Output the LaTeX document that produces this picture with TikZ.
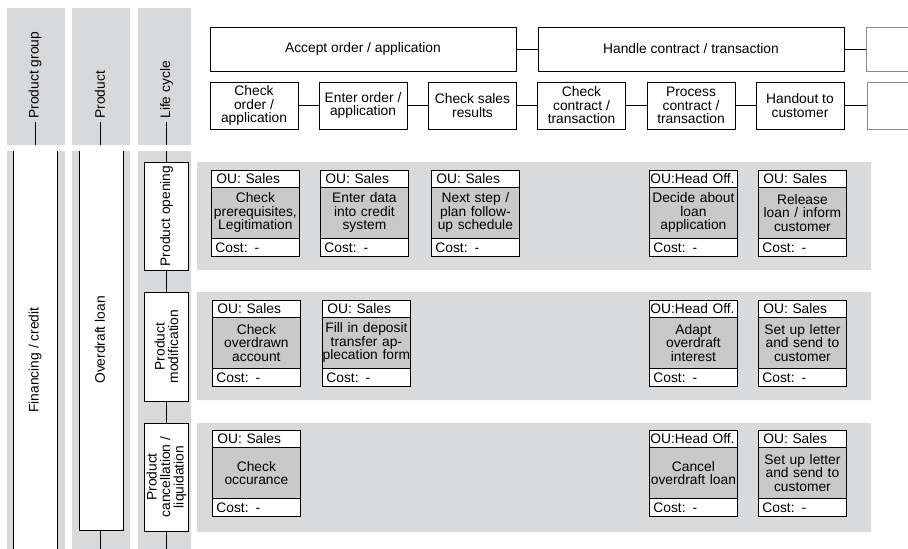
\documentclass[tikz,border=0pt]{standalone}
\usepackage{fontspec}
\setmainfont{Liberation Sans}
\definecolor{colgray}{RGB}{216,217,219}
\definecolor{lanegray}{RGB}{217,218,220}
\definecolor{bodygray}{RGB}{201,201,201}
\newcommand{\ous}{\hspace{4pt}OU: Sales}
\newcommand{\ouh}{\mbox{OU:Head Off.}}
\newcommand{\taskbox}[5]{%
  \node[tkhead] (#1h) at (#2,#3) {#4};
  \node[tkbody] (#1b) at (#2,#3+17) {#5};
  \node[tkfoot] (#1f) at (#2,#3+68) {Cost: -};
}
\tikzset{
  bigbox/.style={draw, line width=0.8pt, minimum width=306pt, minimum height=44pt, inner sep=0pt},
  chainbox/.style={draw, line width=0.8pt, minimum width=88pt, minimum height=47pt, inner sep=0pt, align=center},
  tkhead/.style={draw, fill=white, anchor=north west, minimum height=17pt, text width=86pt, inner xsep=1pt, inner ysep=0pt, align=left},
  tkbody/.style={draw, fill=bodygray, anchor=north west, minimum height=51pt, text width=88pt, inner xsep=0pt, inner ysep=0pt, align=center},
  tkfoot/.style={draw, fill=white, anchor=north west, minimum height=18pt, text width=80pt, inner xsep=4pt, inner ysep=0pt, align=left},
  lcbox/.style={draw, fill=white, rotate=90, minimum height=44pt, inner sep=0pt, align=center},
  vlabel/.style={rotate=90, inner sep=3pt}
}
\begin{document}
\begin{tikzpicture}[x=1pt, y=-1pt, line width=0.8pt, font=\fontsize{13.8}{13.5}\selectfont]
\useasboundingbox (0,0) rectangle (908,549);
% columns
\fill[colgray] (7,8) rectangle (65,145) (72,8) rectangle (130,145) (138,8) rectangle (191,145);
\fill[colgray] (7,151) rectangle (65,549) (72,151) rectangle (130,549) (138,151) rectangle (191,549);
\coordinate (hbot1) at (35,145);
\coordinate (hbot2) at (100,145);
\coordinate (hbot3) at (166.5,145);
\node[vlabel, anchor=west] (hpg) at (35,122) {Product group};
\node[vlabel, anchor=west] (hpr) at (100,122) {Product};
\node[vlabel, anchor=west] (hlc) at (166.5,122) {Life cycle};
\draw (hpg.west) -- (hbot1);
\draw (hpr.west) -- (hbot2);
\draw (hlc.west) -- (hbot3);
% product group / product
\fill[white] (13,151) rectangle (57,549);
\draw (13,151) -- (13,549) (57,151) -- (57,549);
\node[vlabel] (fin) at (35,360) {Financing / credit};
\fill[white] (79,151) rectangle (123,530);
\draw (79,151) -- (79,530) -- (123,530) -- (123,151);
\draw (100,530) -- (100,549);
\node[vlabel] (ovl) at (100,340) {Overdraft loan};
% lanes
\fill[lanegray] (197,162) rectangle (871,270) (197,292) rectangle (871,400) (197,423) rectangle (871,532);
\coordinate (lctop) at (166.5,151);
\coordinate (lcbot) at (166.5,549);
\node[lcbox, minimum width=108pt] (lo) at (166.5,216) {Product opening};
\node[lcbox, minimum width=109pt] (lm) at (166.5,346.5) {Product\\modification};
\node[lcbox, minimum width=108pt] (lc) at (166.5,477) {Product\\cancellation /\\liquidation};
\draw (lctop) -- (lo.east);
\draw (lo.west) -- (lm.east);
\draw (lm.west) -- (lc.east);
\draw (lc.west) -- (lcbot);
% process chain
\node[bigbox] (pa) at (363,49) {Accept order / application};
\node[bigbox] (pb) at (691,49) {Handle contract / transaction};
\node[chainbox] (s1) at (254,105.5) {Check\\order /\\application};
\node[chainbox] (s2) at (363,105.5) {Enter order /\\application};
\node[chainbox] (s3) at (472.5,105.5) {Check sales\\results};
\node[chainbox] (s4) at (581.5,105.5) {Check\\contract /\\transaction};
\node[chainbox] (s5) at (691,105.5) {Process\\contract /\\transaction};
\node[chainbox] (s6) at (800,105.5) {Handout to\\customer};
\begin{scope}
\clip (0,0) rectangle (908,549);
\node[bigbox, draw=black!45] (pc) at (1019,49) {};
\node[chainbox, draw=black!45] (s7) at (911,105.5) {};
\end{scope}
\draw (pa) -- (pb);
\draw (pb) -- (pc);
\foreach \a/\b in {s1/s2, s2/s3, s3/s4, s4/s5, s5/s6, s6/s7}
  \draw (\a) -- (\b);
% tasks
\taskbox{ta}{211}{170}{\ous}{Check\\prerequisites,\\Legitimation}
\taskbox{tb}{320}{170}{\ous}{Enter data\\into credit\\system}
\taskbox{tc}{431}{170}{\ous}{Next step /\\plan follow-\\up schedule}
\taskbox{td}{649}{170}{\ouh}{Decide about\\loan\\application}
\taskbox{te}{758}{170}{\ous}{Release\\loan / inform\\customer}
\taskbox{ma}{212}{300}{\ous}{Check\\overdrawn\\account}
\taskbox{mb}{322}{300}{\ous}{Fill in deposit\\transfer ap-\\plecation form}
\taskbox{md}{649}{300}{\ouh}{Adapt\\overdraft\\interest}
\taskbox{me}{758}{300}{\ous}{Set up letter\\and send to\\customer}
\taskbox{ca}{212}{430}{\ous}{Check\\occurance}
\taskbox{cd}{649}{430}{\ouh}{Cancel\\overdraft loan}
\taskbox{ce}{758}{430}{\ous}{Set up letter\\and send to\\customer}
\end{tikzpicture}
\end{document}
